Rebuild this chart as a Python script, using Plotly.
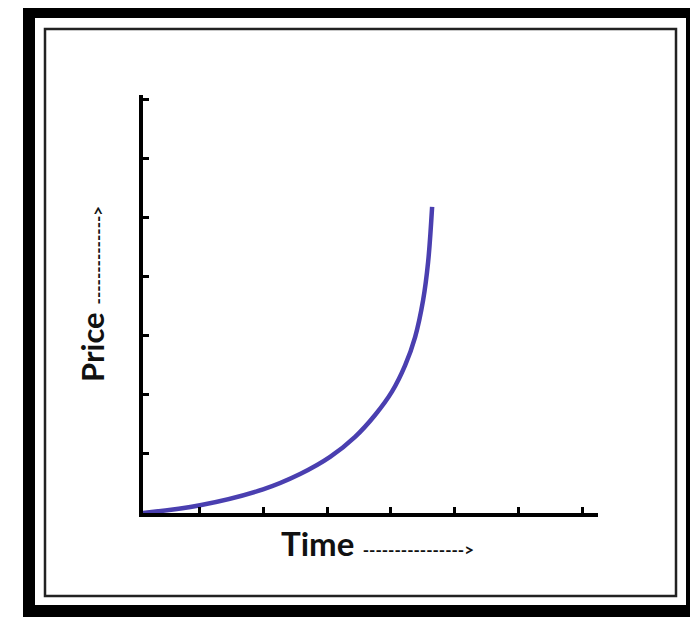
import plotly.graph_objects as go

# Curve (time, price), in axis-tick units
time_vals = [0.11, 1.005, 1.994, 2.575, 3.046, 3.438, 3.752, 4.019, 4.223, 4.380, 4.505, 4.584, 4.647]
price_vals = [0.0, 0.13, 0.40, 0.66, 0.95, 1.29, 1.66, 2.06, 2.50, 2.98, 3.60, 4.25, 5.186]
x_ticks = [1, 2, 3, 4, 5, 6, 7]
y_ticks = [1, 2, 3, 4, 5, 6, 7]

W, H = 698, 617
OFF = 8  # page body margin offset
def px(x):
    return (x - OFF) / W
def py(y):
    return 1 - (y - OFF) / H

fig = go.Figure()
fig.add_trace(go.Scatter(
    x=time_vals, y=price_vals, mode="lines",
    line=dict(color="#4a3fb0", width=4.5, shape="spline", smoothing=1.0),
    hoverinfo="skip", showlegend=False,
))

shapes = [
    # outer black frame
    dict(type="rect", xref="paper", yref="paper", x0=px(23), x1=px(720), y0=py(640), y1=py(7),
         fillcolor="black", line=dict(width=0), layer="below"),
    dict(type="rect", xref="paper", yref="paper", x0=px(35), x1=px(686), y0=py(605), y1=py(18),
         fillcolor="white", line=dict(width=0), layer="below"),
    # inner thin border
    dict(type="rect", xref="paper", yref="paper", x0=px(45), x1=px(676), y0=py(596), y1=py(29),
         fillcolor="rgba(0,0,0,0)", line=dict(color="#222222", width=2.5), layer="below"),
]

font_family = "Lato, 'Open Sans', sans-serif"
arrow = "<b><span style='font-size:17px'>" + "-" * 16 + "></span></b>"
annotations = [
    dict(xref="paper", yref="paper", x=px(377), y=py(543), showarrow=False,
         text="<b>Time</b> " + arrow,
         font=dict(family=font_family, size=33, color="#111111"), xanchor="center", yanchor="middle"),
    dict(xref="paper", yref="paper", x=px(92), y=py(294), showarrow=False, textangle=-90,
         text="<b>Price</b> " + "<b><span style='font-size:17px'>" + "-" * 14 + "></span></b>",
         font=dict(family=font_family, size=31, color="#111111"), xanchor="center", yanchor="middle"),
]

fig.update_layout(
    width=W, height=H, margin=dict(l=0, r=0, t=0, b=0),
    paper_bgcolor="white", plot_bgcolor="rgba(0,0,0,0)",
    shapes=shapes, annotations=annotations,
    xaxis=dict(domain=[px(143), px(598)], range=[0.11, 7.25], showgrid=False, zeroline=False,
               showline=True, linecolor="black", linewidth=4, ticks="inside", ticklen=6,
               tickwidth=3, tickcolor="black", tickvals=x_ticks, showticklabels=False),
    yaxis=dict(domain=[py(513), py(95)], range=[0, 7.08], showgrid=False, zeroline=False,
               showline=True, linecolor="black", linewidth=4, ticks="inside", ticklen=6,
               tickwidth=3, tickcolor="black", tickvals=y_ticks, showticklabels=False),
)

fig.write_html("out.html")
